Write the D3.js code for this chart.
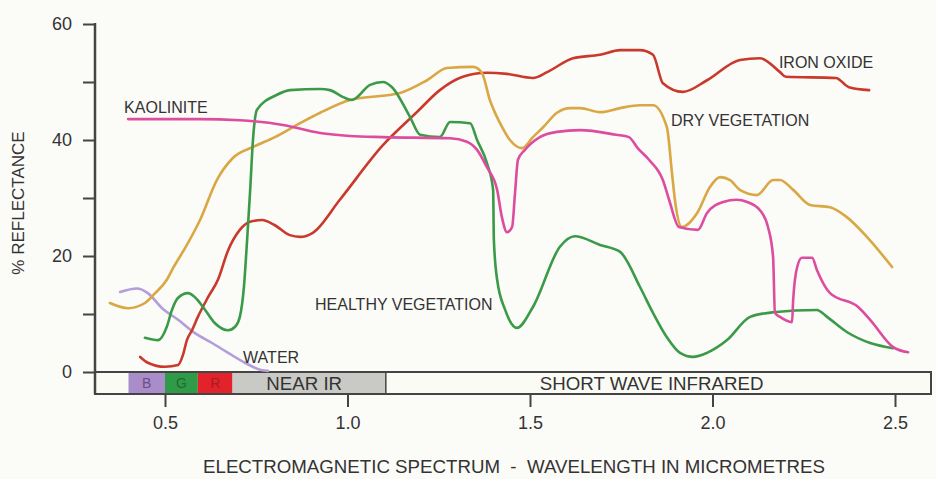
<!DOCTYPE html>
<html>
<head>
<meta charset="utf-8">
<script src="https://cdn.jsdelivr.net/npm/d3@7"></script>
<style>
  body { margin: 0; background: #fbfbf8; }
  svg { display: block; font-family: "Liberation Sans", Arial, sans-serif; }
  text { fill: #333; }
</style>
</head>
<body>
<svg></svg>
<script>
var width = 936, height = 479;

// wavelength (micrometres), % reflectance
var water = [[0.377,13.8],[0.423,14.4],[0.453,13.6],[0.492,11.0],[0.536,9.0],[0.582,6.7],
  [0.629,5.0],[0.673,3.3],[0.719,1.6],[0.766,0.3],[0.782,0.2]];

var ironOxide = [[0.432,2.6],[0.453,1.6],[0.500,0.9],[0.536,1.2],[0.549,2.9],[0.560,5.5],
  [0.574,7.2],[0.590,9.5],[0.618,12.9],[0.645,15.9],[0.673,21.0],[0.705,24.5],[0.733,25.9],
  [0.766,26.2],[0.801,25.3],[0.842,23.6],[0.870,23.3],[0.905,24.0],[0.979,29.7],[1.097,39.1],
  [1.190,44.8],[1.253,48.6],[1.316,50.9],[1.382,51.6],[1.437,51.4],[1.508,50.7],[1.547,51.7],
  [1.618,54.1],[1.692,54.7],[1.747,55.5],[1.801,55.5],[1.837,54.7],[1.864,49.8],[1.919,48.3],
  [1.985,50.3],[2.075,53.8],[2.130,54.1],[2.185,51.7],[2.201,50.9],[2.338,50.7],[2.374,49.1],
  [2.429,48.6]];

var dryVegetation = [[0.349,11.9],[0.399,11.0],[0.445,11.9],[0.473,13.6],[0.505,15.9],
  [0.522,17.9],[0.560,21.9],[0.596,26.2],[0.642,33.1],[0.686,36.9],[0.741,38.8],[0.801,40.5],
  [0.870,42.9],[0.925,44.7],[1.007,46.9],[1.144,48.1],[1.218,50.3],[1.273,52.4],[1.344,52.6],
  [1.368,51.6],[1.390,46.9],[1.418,42.9],[1.445,40.0],[1.478,38.6],[1.508,40.5],[1.536,42.2],
  [1.574,44.7],[1.610,45.5],[1.637,45.5],[1.692,44.8],[1.747,45.5],[1.801,46.0],[1.837,46.0],
  [1.875,42.2],[1.889,34.3],[1.897,29.7],[1.916,25.0],[1.958,27.4],[1.993,31.9],[2.021,33.6],
  [2.048,33.1],[2.075,31.4],[2.122,30.5],[2.166,33.1],[2.185,33.1],[2.221,31.4],[2.267,28.8],
  [2.322,28.4],[2.368,26.7],[2.423,23.3],[2.492,18.1]];

var healthyVegetation = [[0.445,5.9],[0.481,5.5],[0.505,7.8],[0.519,10.7],[0.536,12.8],
  [0.563,13.6],[0.582,12.9],[0.610,10.7],[0.637,8.4],[0.673,7.2],[0.692,7.8],[0.705,9.5],
  [0.716,14.5],[0.725,22.8],[0.733,31.0],[0.741,40.0],[0.752,45.2],[0.807,47.8],[0.842,48.6],
  [0.925,48.8],[0.952,48.6],[0.988,47.4],[1.012,46.9],[1.062,49.5],[1.097,50.0],[1.122,49.1],
  [1.171,44.0],[1.199,40.9],[1.253,40.5],[1.281,43.1],[1.336,42.9],[1.355,40.0],[1.382,36.0],
  [1.399,31.4],[1.401,22.8],[1.410,15.9],[1.432,10.7],[1.464,7.6],[1.508,11.2],[1.582,21.6],
  [1.623,23.4],[1.692,21.9],[1.747,20.7],[1.801,14.7],[1.837,10.2],[1.875,6.0],[1.911,3.3],
  [1.947,2.6],[1.985,3.3],[2.040,5.5],[2.103,9.5],[2.166,10.3],[2.286,10.7],[2.314,9.5],
  [2.368,6.9],[2.432,5.0],[2.495,4.1]];

var kaolinite = [[0.399,43.6],[0.596,43.6],[0.705,43.4],[0.823,42.6],[0.925,41.2],[1.007,40.7],
  [1.097,40.5],[1.281,40.3],[1.327,39.7],[1.355,38.3],[1.382,35.3],[1.410,31.4],[1.423,26.7],
  [1.437,24.1],[1.451,25.0],[1.459,30.9],[1.467,36.6],[1.486,38.3],[1.527,40.5],[1.574,41.4],
  [1.637,41.7],[1.736,40.9],[1.771,40.5],[1.795,38.6],[1.826,36.6],[1.864,33.1],[1.881,29.7],
  [1.908,25.0],[1.960,24.5],[1.985,27.4],[2.029,29.3],[2.067,29.7],[2.095,29.3],[2.130,27.9],
  [2.152,25.0],[2.166,19.8],[2.171,10.2],[2.185,9.5],[2.218,8.6],[2.221,12.4],[2.232,18.1],
  [2.245,19.7],[2.273,19.7],[2.286,17.6],[2.322,13.6],[2.399,11.2],[2.432,9.0],[2.495,4.3],
  [2.536,3.4]];

var series = [
  {name: "WATER", values: water, color: "#b39ddb", label: [0.714, 2.6]},
  {name: "IRON OXIDE", values: ironOxide, color: "#c9392c", label: [2.182, 53.4]},
  {name: "DRY VEGETATION", values: dryVegetation, color: "#d9a744", label: [1.886, 43.4]},
  {name: "HEALTHY VEGETATION", values: healthyVegetation, color: "#3b9a48", label: [0.911, 11.6]},
  {name: "KAOLINITE", values: kaolinite, color: "#de4c9f", label: [0.388, 45.7]}
];

var bands = [
  {name: "B", from: 0.4, to: 0.5, fill: "#a88dc8", text: "#6a4d8c", shift: 0},
  {name: "G", from: 0.5, to: 0.59, fill: "#2f9a48", text: "#1f6b33", shift: 0},
  {name: "R", from: 0.59, to: 0.685, fill: "#e3232b", text: "#a81d22", shift: 0},
  {name: "NEAR IR", from: 0.685, to: 1.105, fill: "#c9c9c6", text: "#333", shift: -5},
  {name: "SHORT WAVE INFRARED", from: 1.105, to: 2.6, fill: "#fbfbf5", text: "#333", shift: -7}
];

var xTicks = [0.5, 1.0, 1.5, 2.0, 2.5];
var yTicks = [0, 10, 20, 30, 40, 50, 60];
var yLabels = [0, 20, 40, 60];

var svg = d3.select("svg")
  .attr("width", width)
  .attr("height", height);

var x = d3.scaleLinear().domain([0.5, 2.5]).range([165, 895]);
var y = d3.scaleLinear().domain([0, 60]).range([372, 24]);

var barTop = y(0), barBottom = y(0) + 22;
var xMin = x.invert(95), xMax = x.invert(931);

// spectrum bar
svg.append("rect")
  .attr("x", x(xMin)).attr("y", barTop)
  .attr("width", x(xMax) - x(xMin)).attr("height", barBottom - barTop)
  .attr("fill", "#fbfbf5");

svg.append("g").selectAll("rect")
  .data(bands)
  .enter()
  .append("rect")
  .attr("x", function(d) { return x(d.from); })
  .attr("y", barTop)
  .attr("width", function(d) { return x(d.to) - x(d.from); })
  .attr("height", barBottom - barTop)
  .attr("fill", function(d) { return d.fill; });

svg.append("g").selectAll("text")
  .data(bands)
  .enter()
  .append("text")
  .attr("x", function(d) { return x((d.from + d.to) / 2) + d.shift; })
  .attr("y", (barTop + barBottom) / 2)
  .attr("dy", "0.36em")
  .attr("text-anchor", "middle")
  .style("font-size", function(d) { return d.name.length > 1 ? "18.7px" : "14px"; })
  .style("fill", function(d) { return d.text; })
  .text(function(d) { return d.name; });

svg.append("line")
  .attr("x1", x(1.105)).attr("x2", x(1.105))
  .attr("y1", barTop).attr("y2", barBottom)
  .attr("stroke", "#444").attr("stroke-width", 1.5);

svg.append("rect")
  .attr("x", x(xMin)).attr("y", barTop)
  .attr("width", x(xMax) - x(xMin)).attr("height", barBottom - barTop)
  .attr("fill", "none")
  .attr("stroke", "#444")
  .attr("stroke-width", 2);

// axes
var yAxis = svg.append("g")
  .attr("transform", "translate(" + x(xMin) + ",0)")
  .call(d3.axisLeft(y).tickValues(yTicks).tickSize(12).tickPadding(11)
    .tickFormat(function(d) { return yLabels.indexOf(d) >= 0 ? d : ""; }));
yAxis.select(".domain").remove();
yAxis.selectAll(".tick line").attr("stroke", "#444").attr("stroke-width", 2);
yAxis.selectAll(".tick text").style("font-size", "18px").style("fill", "#333")
  .style("font-family", "'Liberation Sans', Arial, sans-serif");

svg.append("line")
  .attr("x1", x(xMin)).attr("x2", x(xMin))
  .attr("y1", y(60) - 1).attr("y2", barBottom)
  .attr("stroke", "#444").attr("stroke-width", 2.5);

var xAxis = svg.append("g")
  .attr("transform", "translate(0," + barBottom + ")")
  .call(d3.axisBottom(x).tickValues(xTicks).tickSize(13).tickPadding(9)
    .tickFormat(d3.format(".1f")));
xAxis.select(".domain").remove();
xAxis.selectAll(".tick line").attr("stroke", "#444").attr("stroke-width", 2);
xAxis.selectAll(".tick text").style("font-size", "18px").style("fill", "#333")
  .style("font-family", "'Liberation Sans', Arial, sans-serif");

// curves
var line = d3.line()
  .x(function(d) { return x(d[0]); })
  .y(function(d) { return y(d[1]); })
  .curve(d3.curveMonotoneX);

svg.append("g").selectAll("path")
  .data(series)
  .enter()
  .append("path")
  .attr("d", function(d) { return line(d.values); })
  .attr("fill", "none")
  .attr("stroke", function(d) { return d.color; })
  .attr("stroke-width", 2.6)
  .attr("stroke-linejoin", "round")
  .attr("stroke-linecap", "round");

svg.append("g").selectAll("text")
  .data(series)
  .enter()
  .append("text")
  .attr("x", function(d) { return x(d.label[0]); })
  .attr("y", function(d) { return y(d.label[1]); })
  .attr("dy", "0.36em")
  .style("font-size", "16px")
  .text(function(d) { return d.name; });

// axis titles
svg.append("text")
  .attr("transform", "translate(24,203) rotate(-90)")
  .attr("text-anchor", "middle")
  .style("font-size", "17px")
  .text("% REFLECTANCE");

svg.append("text")
  .attr("x", 514)
  .attr("y", 466)
  .attr("dy", "0.36em")
  .attr("text-anchor", "middle")
  .style("font-size", "18.7px")
  .style("white-space", "pre")
  .text("ELECTROMAGNETIC SPECTRUM  -  WAVELENGTH IN MICROMETRES");
</script>
</body>
</html>
